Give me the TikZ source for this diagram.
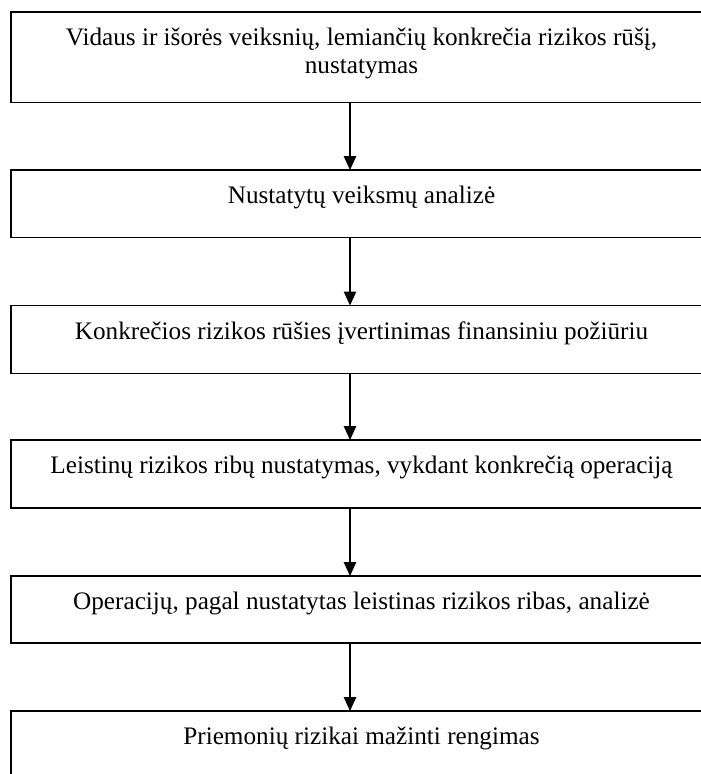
\documentclass[tikz,border=0pt]{standalone}
\usepackage{fontspec}
\setmainfont{Liberation Serif}
\usetikzlibrary{arrows.meta}
\begin{document}
\begin{tikzpicture}[x=1pt,y=-1pt,
  box/.style={draw=black, line width=1.8pt, rectangle, minimum width=701pt,
    inner sep=0pt, outer sep=0pt, anchor=north west},
  lbl/.style={font=\fontsize{25.2pt}{28.3pt}\selectfont, align=center, anchor=base, inner sep=0pt},
  arr/.style={draw=black, line width=1.2pt, -{Triangle[length=14pt,width=12.5pt]}}]
\clip (0,0) rectangle (701,774);
\fill[white] (0,0) rectangle (701,774);
\node[box, minimum height=90.5pt] (b1) at (11,12) {};
\node[box, minimum height=67.5pt] (b2) at (11,170) {};
\node[box, minimum height=68pt] (b3) at (11,305.5) {};
\node[box, minimum height=68pt] (b4) at (11,440) {};
\node[box, minimum height=67pt] (b5) at (11,576) {};
\node[box, minimum height=80pt] (b6) at (11,711) {};
\node[lbl] (t1) at (361.5,73.3) {Vidaus ir išorės veiksnių, lemiančių konkrečia rizikos rūšį,\\nustatymas};
\node[lbl] (t2) at (361.5,203) {Nustatytų veiksmų analizė};
\node[lbl] (t3) at (361.5,339) {Konkrečios rizikos rūšies įvertinimas finansiniu požiūriu};
\node[lbl] (t4) at (361.5,473) {Leistinų rizikos ribų nustatymas, vykdant konkrečią operaciją};
\node[lbl] (t5) at (361.5,609) {Operacijų, pagal nustatytas leistinas rizikos ribas, analizė};
\node[lbl] (t6) at (361.5,744) {Priemonių rizikai mažinti rengimas};
\coordinate (ax) at (350,0);
\draw[arr] (b1.south -| ax) -- (b2.north -| ax);
\draw[arr] (b2.south -| ax) -- (b3.north -| ax);
\draw[arr] (b3.south -| ax) -- (b4.north -| ax);
\draw[arr] (b4.south -| ax) -- (b5.north -| ax);
\draw[arr] (b5.south -| ax) -- (b6.north -| ax);
\end{tikzpicture}
\end{document}
